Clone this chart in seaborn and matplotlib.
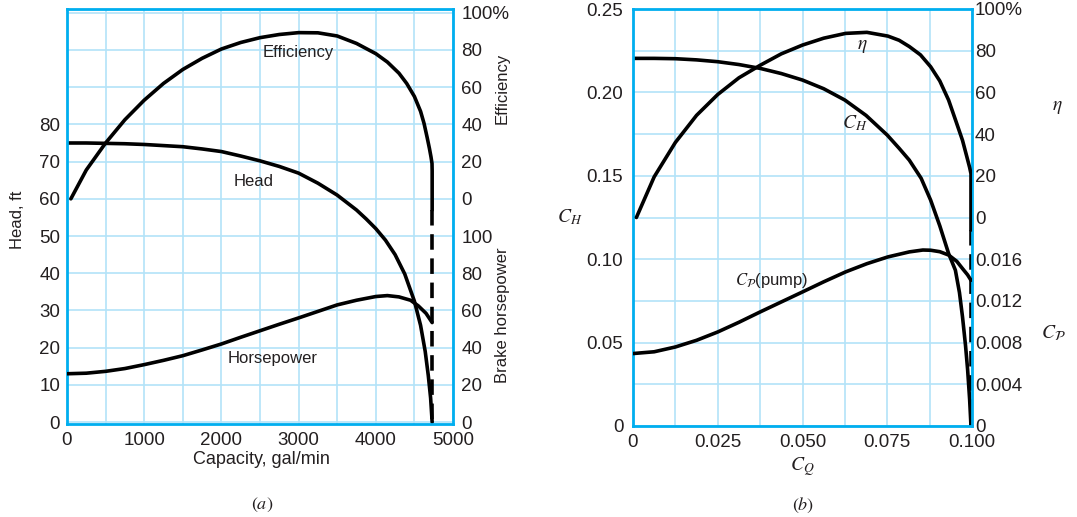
import matplotlib
matplotlib.use("Agg")
import matplotlib.pyplot as plt
import seaborn as sns

# (a) pump performance, dimensional
head_gpm = [0, 250, 500, 750, 1000, 1250, 1500, 1750, 2000, 2250, 2500, 2750, 3000, 3250,
            3500, 3750, 3875, 4000, 4125, 4250, 4375, 4500, 4580, 4640, 4680, 4710, 4730]
head_ft = [75.0, 75.0, 74.9, 74.8, 74.6, 74.3, 74.0, 73.4, 72.7, 71.5, 70.2, 68.7, 66.9, 64.2,
           61.0, 57.0, 54.6, 52.0, 48.9, 45.0, 39.8, 32.5, 26.0, 19.0, 12.5, 6.5, 0]

eff_gpm = [50, 250, 500, 750, 1000, 1250, 1500, 1750, 2000, 2250, 2500, 2750, 3000, 3250,
           3500, 3750, 4000, 4150, 4300, 4400, 4500, 4580, 4625, 4665, 4695, 4715, 4728, 4730, 4730]
eff_pct = [0, 15.5, 30, 42.5, 53, 62, 69.5, 75.5, 80.5, 84, 86.6, 88.3, 89.3, 89.2,
           87.5, 83.5, 78, 73.5, 67.5, 62, 55, 47, 40.5, 33, 27, 22.5, 19, 15, -6]

bhp_gpm = [0, 250, 500, 750, 1000, 1250, 1500, 1750, 2000, 2250, 2500, 2750, 3000, 3250,
           3500, 3750, 4000, 4150, 4300, 4450, 4550, 4650, 4730]
bhp_hp = [26, 26.3, 27.3, 28.8, 30.9, 33.2, 35.7, 38.8, 42, 45.6, 49.1, 52.6, 56, 59.5,
          63, 65.5, 67.5, 68, 67.3, 65.5, 62.5, 58.5, 53.5]

shutoff_gpm = [4730, 4730]
shutoff_ft = [57, 0]

# (b) same pump, dimensionless
ch_cq = [0, 0.00625, 0.0125, 0.01875, 0.025, 0.03125, 0.0375, 0.04375, 0.05, 0.05625, 0.0625,
         0.06875, 0.075, 0.0785, 0.0815, 0.085, 0.0878, 0.0905, 0.0931, 0.0951, 0.0963, 0.0972,
         0.0981, 0.0987, 0.0993, 0.0997]
ch_val = [0.2204, 0.2204, 0.2202, 0.2195, 0.2184, 0.2167, 0.2144, 0.2113, 0.2074, 0.2022, 0.1954,
          0.1862, 0.1744, 0.1665, 0.1594, 0.1485, 0.1354, 0.1200, 0.1034, 0.0934, 0.0800, 0.0654,
          0.0480, 0.0340, 0.0160, 0]

eta_cq = [0.001, 0.00625, 0.0125, 0.01875, 0.025, 0.03125, 0.0375, 0.04375, 0.05, 0.05625, 0.0627,
          0.069, 0.0752, 0.0785, 0.0815, 0.0848, 0.0878, 0.0905, 0.0931, 0.0953, 0.0972, 0.0985,
          0.0993, 0.0997, 0.0997]
eta_val = [0, 19.5, 36, 49, 59, 67, 73, 78.5, 82.7, 86, 88.3,
           88.8, 87, 85, 82, 78, 72.3, 65.5, 56.3, 46, 37, 29,
           24, 21, -6]

cp_cq = [0, 0.00625, 0.0125, 0.01875, 0.025, 0.03125, 0.0375, 0.04375, 0.05, 0.05625, 0.0627,
         0.069, 0.0752, 0.0815, 0.0855, 0.0878, 0.0905, 0.0931, 0.0955, 0.0972, 0.0987, 0.0997]
cp_val = [0.00695, 0.00712, 0.00758, 0.00822, 0.00902, 0.00995, 0.01094, 0.0119, 0.01286, 0.01383,
          0.01478, 0.01557, 0.01622, 0.0167, 0.01688, 0.01686, 0.01672, 0.0164, 0.0158, 0.0151,
          0.0145, 0.01398]

cutoff_cq = [0.0997, 0.0997]
cutoff_ch = [0.1175, 0]

sns.set_style("white")
plt.rcParams["font.family"] = ["Liberation Sans", "DejaVu Sans"]
plt.rcParams["mathtext.fontset"] = "stix"

W, H = 1077, 517
SPINE = "#00aeef"
GRID = "#b3e3f8"
INK = "#231f20"
LW = 2.6
DASH = (0, (4.3, 2.4))
TICK = 13.5

fig = plt.figure(figsize=(W / 100, H / 100), dpi=100)


def px_axes(x0, y0, x1, y1):
    return fig.add_axes([x0 / W, 1 - y1 / H, (x1 - x0) / W, (y1 - y0) / H])


def px_text(x, y, s, **kw):
    fig.text(x / W, 1 - y / H, s, ha="center", va="center", color=INK, **kw)


def frame(a):
    for s in a.spines.values():
        s.set_color(SPINE)
        s.set_linewidth(2)
    a.tick_params(which="both", length=0, labelsize=TICK, colors=INK)
    a.grid(True, which="both", color=GRID, lw=1.2)


def twin(a, lim, ticks, labels, pad):
    t = a.twinx()
    t.set_ylim(*lim)
    t.set_yticks(ticks, labels)
    t.tick_params(length=0, labelsize=TICK, colors=INK, pad=pad)
    for s in t.spines.values():
        s.set_visible(False)
    return t


def curve(a, x, y, **kw):
    sns.lineplot(x=x, y=y, ax=a, sort=False, estimator=None, color="black", lw=LW, **kw)


# ---- panel (a)
ax = px_axes(67, 9, 453, 424)
frame(ax)
ax_eff = twin(ax, (-121, 102), [0, 20, 40, 60, 80, 100], ["0", "20", "40", "60", "80", "100%"], 6)
ax_bhp = twin(ax, (-1, 222), [0, 20, 40, 60, 80, 100], ["0", "20", "40", "60", "80", "100"], 6)

curve(ax, head_gpm, head_ft)
curve(ax, shutoff_gpm, shutoff_ft, linestyle=DASH)
curve(ax_eff, eff_gpm, eff_pct)
curve(ax_bhp, bhp_gpm, bhp_hp)

ax.set_xlim(0, 5000)
ax.set_ylim(-0.5, 111)
ax.set_xticks(range(0, 5001, 1000))
ax.set_xticks(range(500, 5000, 1000), minor=True)
ax.set_yticks(range(0, 81, 10))
ax.set_yticks([90, 100, 110], minor=True)
ax.tick_params(axis="y", pad=5)
ax.tick_params(axis="x", pad=6)
ax.set_xlabel("")
ax.set_ylabel("")

ax.text(3000, 99.2, "Efficiency", ha="center", va="center", fontsize=12, color=INK)
ax.text(2417, 64.6, "Head", ha="center", va="center", fontsize=12, color=INK)
ax.text(2663, 17, "Horsepower", ha="center", va="center", fontsize=12, color=INK)

px_text(18, 220, "Head, ft", rotation=90, fontsize=12)
px_text(502, 88, "Efficiency", rotation=90, fontsize=12)
px_text(502, 315, "Brake horsepower", rotation=90, fontsize=12)
px_text(261, 460, "Capacity, gal/min", fontsize=13)
px_text(262, 505, "$(a)$", fontsize=13)

# ---- panel (b)
bx = px_axes(633, 9, 972, 426)
frame(bx)
bx_eta = twin(bx, (-100, 100), [0, 20, 40, 60, 80, 100], ["0", "20", "40", "60", "80", "100%"], 2)
bx_cp = twin(bx, (0, 0.04), [0, 0.004, 0.008, 0.012, 0.016], ["0", "0.004", "0.008", "0.012", "0.016"], 2)

curve(bx, ch_cq, ch_val)
curve(bx, cutoff_cq, cutoff_ch, linestyle=DASH)
curve(bx_eta, eta_cq, eta_val)
curve(bx_cp, cp_cq, cp_val)

bx.set_xlim(0, 0.1)
bx.set_ylim(0, 0.25)
bx.set_xticks([0, 0.025, 0.05, 0.075, 0.1], ["0", "0.025", "0.050", "0.075", "0.100"])
bx.set_xticks([0.0125, 0.0375, 0.0625, 0.0875], minor=True)
bx.set_yticks([0, 0.05, 0.1, 0.15, 0.2, 0.25], ["0", "0.05", "0.10", "0.15", "0.20", "0.25"])
bx.set_yticks([0.025, 0.075, 0.125, 0.175, 0.225], minor=True)
bx.tick_params(axis="y", pad=7)
bx.tick_params(axis="x", pad=6)
bx.set_xlabel("")
bx.set_ylabel("")

bx.text(0.0675, 0.2274, r"$\eta$", ha="center", va="center", fontsize=14, color=INK)
bx.text(0.0653, 0.1814, r"$C_H$", ha="center", va="center", fontsize=14, color=INK)
bx.text(0.041, 0.087, r"$C_{\mathcal{P}}$(pump)", ha="center", va="center", fontsize=12, color=INK)

px_text(570, 217, r"$C_H$", fontsize=14)
px_text(802, 467, r"$C_Q$", fontsize=14)
px_text(803, 505, "$(b)$", fontsize=13)
px_text(1057, 107, r"$\eta$", fontsize=14)
px_text(1053, 333, r"$C_{\mathcal{P}}$", fontsize=14)

fig.savefig("out.png", dpi=100)
